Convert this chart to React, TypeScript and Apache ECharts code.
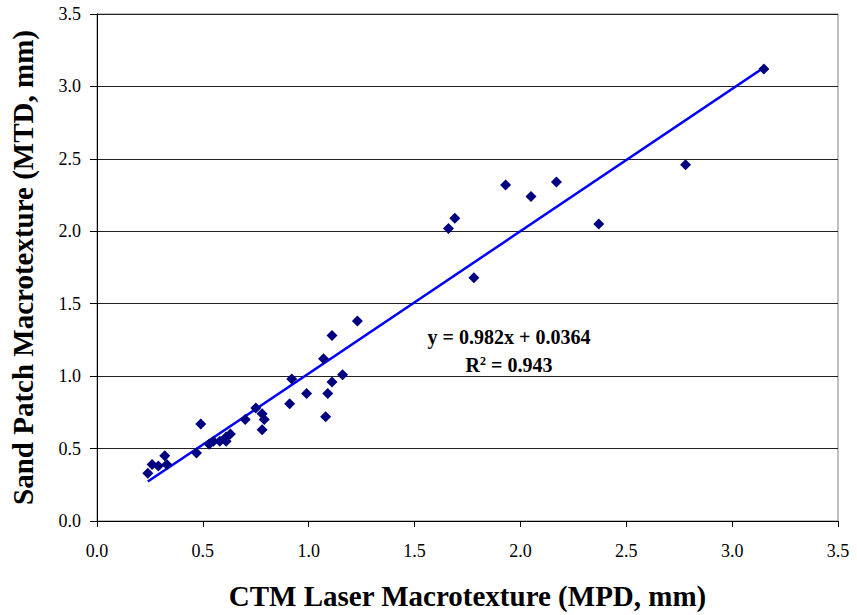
import React, { useEffect, useRef } from "react";
import * as echarts from "echarts";

const mpd = [0.24, 0.26, 0.29, 0.32, 0.33, 0.47, 0.49, 0.53, 0.55, 0.58, 0.61, 0.61, 0.63, 0.70, 0.75, 0.78, 0.79, 0.78, 0.91, 0.92, 0.99, 1.07, 1.08, 1.09, 1.11, 1.11, 1.16, 1.23, 1.66, 1.69, 1.78, 1.93, 2.05, 2.17, 2.37, 2.78, 3.15];
const mtd = [0.33, 0.39, 0.38, 0.45, 0.39, 0.47, 0.67, 0.53, 0.55, 0.55, 0.55, 0.58, 0.60, 0.70, 0.78, 0.74, 0.70, 0.63, 0.81, 0.98, 0.88, 1.12, 0.72, 0.88, 1.28, 0.96, 1.01, 1.38, 2.02, 2.09, 1.68, 2.32, 2.24, 2.34, 2.05, 2.46, 3.12];
const slope = 0.982;
const intercept = 0.0364;
const axisTicks = ["0.0", "0.5", "1.0", "1.5", "2.0", "2.5", "3.0", "3.5"];

const serif = "'Liberation Serif', 'Times New Roman', serif";

export default function App() {
  const ref = useRef<HTMLDivElement>(null);
  useEffect(() => {
    if (!ref.current) return;
    const chart = echarts.init(ref.current, null, { renderer: "svg" });
    const pts = mpd.map((x, i) => [x, mtd[i]]);
    const xMin = Math.min(...mpd);
    const xMax = Math.max(...mpd);
    const trend = [
      [xMin, slope * xMin + intercept],
      [xMax, slope * xMax + intercept],
    ];
    const labelBase = {
      fontFamily: serif,
      fontSize: 18,
      color: "#000",
      formatter: (v: number) => axisTicks[Math.round(v / 0.5)] ?? v.toFixed(1),
    };
    const axisCommon = {
      type: "value",
      min: 0,
      max: 3.5,
      interval: 0.5,
      axisLine: { show: true, lineStyle: { color: "#000", width: 1 } },
      nameLocation: "middle",
      nameTextStyle: { fontFamily: serif, fontSize: 29, fontWeight: "bold", color: "#000" },
    };
    chart.setOption({
      animation: false,
      backgroundColor: "#fff",
      grid: {
        left: 95,
        right: 19,
        top: 14,
        bottom: 93,
        show: true,
        borderColor: "#808080",
        borderWidth: 1,
      },
      xAxis: {
        ...axisCommon,
        name: "CTM Laser Macrotexture (MPD, mm)",
        nameGap: 60,
        splitLine: { show: false },
        axisTick: { show: true, length: 6, lineStyle: { color: "#000" } },
        axisLabel: { ...labelBase, margin: 21 },
      },
      yAxis: {
        ...axisCommon,
        name: "Sand Patch Macrotexture (MTD, mm)",
        nameGap: 60,
        splitLine: { show: true, lineStyle: { color: "#222", width: 1 } },
        axisTick: { show: true, length: 7, lineStyle: { color: "#000" } },
        axisLabel: { ...labelBase, margin: 16 },
      },
      series: [
        {
          type: "scatter",
          data: pts,
          symbol: "diamond",
          symbolSize: 11,
          itemStyle: { color: "#000080", opacity: 1 },
          z: 3,
        },
        {
          type: "line",
          data: trend,
          symbol: "none",
          lineStyle: { color: "#0000FF", width: 2.5 },
          z: 2,
        },
      ],
      graphic: [
        {
          type: "text",
          x: 509,
          y: 337,
          style: {
            text: "y = 0.982x + 0.0364",
            fontFamily: serif,
            fontSize: 20,
            fontWeight: "bold",
            fill: "#000",
            align: "center",
            verticalAlign: "middle",
          },
        },
        {
          type: "text",
          x: 509,
          y: 365,
          style: {
            text: "{a|R}{s|2}{a| = 0.943}",
            align: "center",
            verticalAlign: "middle",
            rich: {
              a: { fontFamily: serif, fontSize: 20, fontWeight: "bold", fill: "#000", verticalAlign: "bottom" },
              s: { fontFamily: serif, fontSize: 12, fontWeight: "bold", fill: "#000", verticalAlign: "top", padding: [0, 0, 8, 0] },
            },
          },
        },
      ],
    });
    return () => chart.dispose();
  }, []);
  return <div ref={ref} style={{ width: 857, height: 615, position: "absolute", left: 0, top: 0 }} />;
}
